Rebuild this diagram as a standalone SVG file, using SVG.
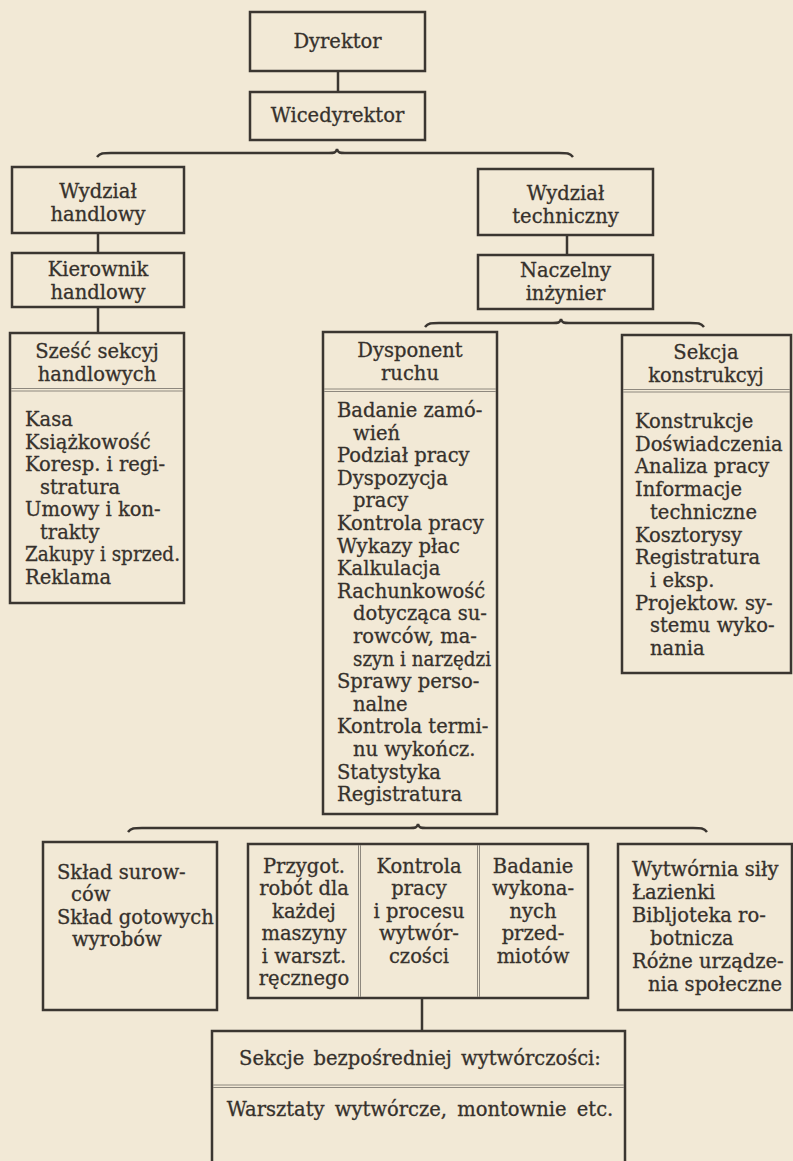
<svg xmlns="http://www.w3.org/2000/svg" width="793" height="1161" viewBox="0 0 793 1161">
<style>
.bg{fill:#f2e9d6}
.box{fill:none;stroke:#3b3631;stroke-width:2.5}
.dv{stroke:#8e887e;stroke-width:1;fill:none}
.cn{fill:none;stroke:#3b3631;stroke-width:2.5}
.t{font-family:"DejaVu Serif","Liberation Serif",serif;font-size:19.5px;fill:#36312c;stroke:#36312c;stroke-width:0.3}
.c{text-anchor:middle}
</style>
<rect class="bg" x="0" y="0" width="793" height="1161"/>

<g id="connectors">
<line class="cn" x1="338" y1="71" x2="338" y2="92"/>
<line class="cn" x1="98" y1="233" x2="98" y2="253"/>
<line class="cn" x1="98" y1="307" x2="98" y2="333"/>
<line class="cn" x1="567" y1="235" x2="567" y2="255"/>
<line class="cn" x1="422" y1="998" x2="422" y2="1031"/>
<path class="cn" d="M97,157 C100,153 103,153 111,153 L329,153 C334,153 336,153 337,149 C338,153 340,153 345,153 L559,153 C567,153 570,153 573,157"/>
<path class="cn" d="M425,327 C428,323 431,323 439,323 L553,323 C558,323 560,323 561,319 C562,323 564,323 569,323 L690,323 C698,323 701,323 704,327"/>
<path class="cn" d="M128,832 C131,828 134,828 142,828 L410,828 C415,828 417,828 418,824 C419,828 421,828 426,828 L693,828 C701,828 704,828 707,832"/>
</g>

<g id="dyrektor">
<rect class="box" x="250" y="12" width="175" height="59"/>
<text class="t c" x="337.5" y="48" font-size="20.5">Dyrektor</text>
</g>

<g id="wicedyrektor">
<rect class="box" x="250" y="92" width="175" height="48"/>
<text class="t c" x="337.5" y="122" font-size="20.5">Wicedyrektor</text>
</g>

<g id="wydzial-handlowy">
<rect class="box" x="12" y="167" width="172" height="66"/>
<text class="t c" x="98" y="198">Wydział</text>
<text class="t c" x="98" y="221">handlowy</text>
</g>

<g id="kierownik-handlowy">
<rect class="box" x="12" y="253" width="172" height="54"/>
<text class="t c" x="98" y="276">Kierownik</text>
<text class="t c" x="98" y="299">handlowy</text>
</g>

<g id="szesc-sekcyj">
<rect class="box" x="10" y="333" width="174" height="270"/>
<text class="t c" x="97" y="358">Sześć sekcyj</text>
<text class="t c" x="97" y="381">handlowych</text>
<line class="dv" x1="11" y1="388.5" x2="183" y2="388.5"/>
<line class="dv" x1="11" y1="391" x2="183" y2="391"/>
<text class="t" x="25" y="426">Kasa</text>
<text class="t" x="25" y="448.5">Książkowość</text>
<text class="t" x="25" y="471">Koresp. i regi-</text>
<text class="t" x="40" y="493.5">stratura</text>
<text class="t" x="25" y="516">Umowy i kon-</text>
<text class="t" x="40" y="538.5">trakty</text>
<text class="t" x="25" y="561" textLength="155" lengthAdjust="spacingAndGlyphs">Zakupy i sprzed.</text>
<text class="t" x="25" y="583.5">Reklama</text>
</g>

<g id="wydzial-techniczny">
<rect class="box" x="478" y="169" width="175" height="66"/>
<text class="t c" x="565.5" y="200">Wydział</text>
<text class="t c" x="565.5" y="223">techniczny</text>
</g>

<g id="naczelny-inzynier">
<rect class="box" x="478" y="255" width="175" height="54"/>
<text class="t c" x="565.5" y="277">Naczelny</text>
<text class="t c" x="565.5" y="300">inżynier</text>
</g>

<g id="dysponent-ruchu">
<rect class="box" x="323" y="332" width="174" height="482"/>
<text class="t c" x="410" y="357">Dysponent</text>
<text class="t c" x="410" y="380">ruchu</text>
<line class="dv" x1="324" y1="389" x2="496" y2="389"/>
<line class="dv" x1="324" y1="391.5" x2="496" y2="391.5"/>
<text class="t" x="337" y="417">Badanie zamó-</text>
<text class="t" x="353" y="439.6">wień</text>
<text class="t" x="337" y="462.2">Podział pracy</text>
<text class="t" x="337" y="484.8">Dyspozycja</text>
<text class="t" x="353" y="507.4">pracy</text>
<text class="t" x="337" y="530">Kontrola pracy</text>
<text class="t" x="337" y="552.6">Wykazy płac</text>
<text class="t" x="337" y="575.2">Kalkulacja</text>
<text class="t" x="337" y="597.8">Rachunkowość</text>
<text class="t" x="353" y="620.4">dotycząca su-</text>
<text class="t" x="353" y="643">rowców, ma-</text>
<text class="t" x="353" y="665.6" textLength="138" lengthAdjust="spacingAndGlyphs">szyn i narzędzi</text>
<text class="t" x="337" y="688.2">Sprawy perso-</text>
<text class="t" x="353" y="710.8">nalne</text>
<text class="t" x="337" y="733.4">Kontrola termi-</text>
<text class="t" x="353" y="756">nu wykończ.</text>
<text class="t" x="337" y="778.6">Statystyka</text>
<text class="t" x="337" y="801.2">Registratura</text>
</g>

<g id="sekcja-konstrukcyj">
<rect class="box" x="622" y="335" width="169" height="338"/>
<text class="t c" x="706" y="359">Sekcja</text>
<text class="t c" x="706" y="382">konstrukcyj</text>
<line class="dv" x1="623" y1="389.5" x2="790" y2="389.5"/>
<line class="dv" x1="623" y1="392" x2="790" y2="392"/>
<text class="t" x="635" y="428">Konstrukcje</text>
<text class="t" x="635" y="450.7">Doświadczenia</text>
<text class="t" x="635" y="473.4">Analiza pracy</text>
<text class="t" x="635" y="496.1">Informacje</text>
<text class="t" x="650" y="518.8">techniczne</text>
<text class="t" x="635" y="541.5">Kosztorysy</text>
<text class="t" x="635" y="564.2">Registratura</text>
<text class="t" x="650" y="586.9">i eksp.</text>
<text class="t" x="635" y="609.6">Projektow. sy-</text>
<text class="t" x="650" y="632.3">stemu wyko-</text>
<text class="t" x="650" y="655">nania</text>
</g>

<g id="sklad">
<rect class="box" x="43" y="842" width="174" height="168"/>
<text class="t" x="57" y="879">Skład surow-</text>
<text class="t" x="71" y="901">ców</text>
<text class="t" x="57" y="924">Skład gotowych</text>
<text class="t" x="72" y="946">wyrobów</text>
</g>

<g id="kontrola-wytworczosci">
<rect class="box" x="248" y="844" width="340" height="154"/>
<line class="dv" x1="358.5" y1="845" x2="358.5" y2="997"/>
<line class="dv" x1="360.5" y1="845" x2="360.5" y2="997"/>
<line class="dv" x1="477.5" y1="845" x2="477.5" y2="997"/>
<line class="dv" x1="479.5" y1="845" x2="479.5" y2="997"/>
<text class="t c" x="304" y="873">Przygot.</text>
<text class="t c" x="304" y="895.4">robót dla</text>
<text class="t c" x="304" y="917.8">każdej</text>
<text class="t c" x="304" y="940.2">maszyny</text>
<text class="t c" x="304" y="962.6">i warszt.</text>
<text class="t c" x="304" y="985">ręcznego</text>
<text class="t c" x="419" y="873">Kontrola</text>
<text class="t c" x="419" y="895.4">pracy</text>
<text class="t c" x="419" y="917.8">i procesu</text>
<text class="t c" x="419" y="940.2">wytwór-</text>
<text class="t c" x="419" y="962.6">czości</text>
<text class="t c" x="533" y="873">Badanie</text>
<text class="t c" x="533" y="895.4">wykona-</text>
<text class="t c" x="533" y="917.8">nych</text>
<text class="t c" x="533" y="940.2">przed-</text>
<text class="t c" x="533" y="962.6">miotów</text>
</g>

<g id="wytwornia">
<rect class="box" x="618" y="844" width="174" height="166"/>
<text class="t" x="632" y="876">Wytwórnia siły</text>
<text class="t" x="632" y="899">Łazienki</text>
<text class="t" x="632" y="922">Bibljoteka ro-</text>
<text class="t" x="650" y="945">botnicza</text>
<text class="t" x="632" y="968">Różne urządze-</text>
<text class="t" x="648" y="991">nia społeczne</text>
</g>

<g id="sekcje-bezposredniej">
<rect class="box" x="212" y="1031" width="413" height="160"/>
<text class="t c" x="420" y="1065" word-spacing="3">Sekcje bezpośredniej wytwórczości:</text>
<line class="dv" x1="213" y1="1085" x2="624" y2="1085"/>
<line class="dv" x1="213" y1="1087.5" x2="624" y2="1087.5"/>
<text class="t c" x="420" y="1116" word-spacing="4">Warsztaty wytwórcze, montownie etc.</text>
</g>
</svg>
